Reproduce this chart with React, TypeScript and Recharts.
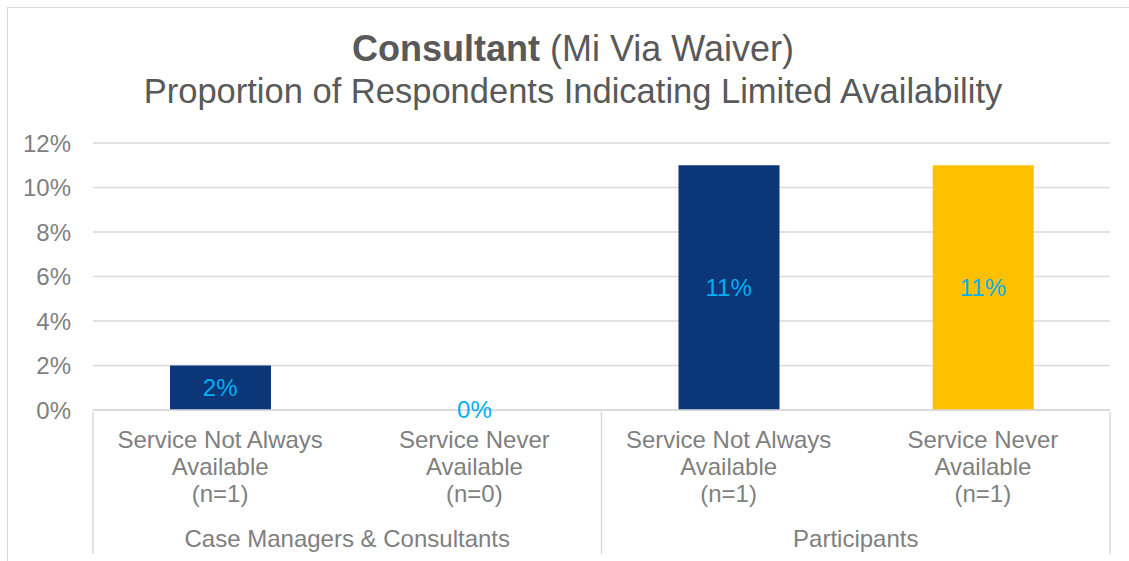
import { ComposedChart, Bar, Line, XAxis, YAxis, CartesianGrid, LabelList, Cell } from 'recharts';

const categories = ['Service Not Always Available', 'Service Never Available', 'Service Not Always Available', 'Service Never Available'];
const sampleSizes = [1, 0, 1, 1];
const groups = ['Case Managers & Consultants', 'Case Managers & Consultants', 'Participants', 'Participants'];
const values = [0.02, 0, 0.11, 0.11];
const yTicks = [0, 0.02, 0.04, 0.06, 0.08, 0.1, 0.12];

const barColors = ['#0B3677', '#0B3677', '#0B3677', '#FFC000'];

const W = 1129;
const H = 561;
const Y_AXIS_W = 93;
const RIGHT = 19;
const PLOT_W = W - Y_AXIS_W - RIGHT;
const BAND = PLOT_W / categories.length;
const FONT = '"Liberation Sans", Arial, sans-serif';

const data = categories.map((c, i) => ({
  name: `${i}`,
  label: c,
  n: sampleSizes[i],
  group: groups[i],
  value: values[i],
  // middle of the bar, used only to place the data label (also works for the 0% bar)
  mid: values[i] / 2,
}));

const pct = (v: number) => `${Math.round(v * 100)}%`;

// splits "Service Not Always Available" into the two lines the reference shows
function splitLabel(s: string) {
  const idx = s.lastIndexOf(' ');
  return [s.slice(0, idx), s.slice(idx + 1)];
}

function CategoryTick(props: any) {
  const { x, y, payload } = props;
  const i = Number(payload.value);
  const d = data[i];
  const [l1, l2] = splitLabel(d.label);
  const font = { fontFamily: FONT, fontSize: 24, fill: '#7F7F7F' };
  const isGroupStart = i === 0 || groups[i] !== groups[i - 1];
  const isLast = i === data.length - 1;
  return (
    <g>
      <text x={x} y={y + 36} textAnchor="middle" {...font}>{l1}</text>
      <text x={x} y={y + 63} textAnchor="middle" {...font}>{l2}</text>
      <text x={x} y={y + 90} textAnchor="middle" {...font}>{`(n=${d.n})`}</text>
      {isGroupStart && (
        <>
          <line x1={x - BAND / 2} x2={x - BAND / 2} y1={y} y2={y + 142} stroke="#D9D9D9" strokeWidth={1.5} />
          <text x={x + BAND / 2} y={y + 135} textAnchor="middle" {...font}>{d.group}</text>
        </>
      )}
      {isLast && (
        <line x1={x + BAND / 2} x2={x + BAND / 2} y1={y} y2={y + 142} stroke="#D9D9D9" strokeWidth={1.5} />
      )}
    </g>
  );
}

function ValueLabel(props: any) {
  const { x, y, value } = props;
  return (
    <text x={x} y={Number(y) + 8} textAnchor="middle" fill="#00B0F0" fontSize={24} fontFamily={FONT}>
      {pct(Number(value))}
    </text>
  );
}

export default function App() {
  return (
    <div style={{ position: 'absolute', left: 0, top: 0, width: W, height: H, overflow: 'hidden', background: '#fff' }}>
      <div style={{ position: 'absolute', left: 7, top: 7, width: W + 20, height: H + 20, border: '1px solid #D9D9D9' }} />
      <div
        style={{
          position: 'absolute',
          left: 0,
          top: 27,
          width: 1146,
          textAlign: 'center',
          fontFamily: FONT,
          lineHeight: '43px',
          color: '#595959',
        }}
      >
        <div style={{ fontSize: 36 }}>
          <b>Consultant</b> (Mi Via Waiver)
        </div>
        <div style={{ fontSize: 34.5 }}>Proportion of Respondents Indicating Limited Availability</div>
      </div>
      <ComposedChart
        width={W}
        height={H}
        data={data}
        margin={{ top: 143, right: RIGHT, bottom: 0, left: 0 }}
        style={{ position: 'absolute', left: 0, top: 0 }}
      >
        <CartesianGrid vertical={false} stroke="#D9D9D9" strokeWidth={1.5} />
        <XAxis
          dataKey="name"
          height={151}
          tick={<CategoryTick />}
          tickLine={false}
          tickSize={0}
          axisLine={{ stroke: '#D9D9D9', strokeWidth: 1.5 }}
          interval={0}
        />
        <YAxis
          width={Y_AXIS_W}
          domain={[0, 0.12]}
          ticks={yTicks}
          tickFormatter={pct}
          axisLine={false}
          tickLine={false}
          tickMargin={16}
          tick={{ fill: '#7F7F7F', fontSize: 24, fontFamily: FONT }}
        />
        <Bar dataKey="value" barSize={101} isAnimationActive={false}>
          {data.map((_, i) => (
            <Cell key={i} fill={barColors[i]} />
          ))}
        </Bar>
        <Line
          dataKey="mid"
          stroke="none"
          dot={false}
          activeDot={false}
          legendType="none"
          isAnimationActive={false}
        >
          <LabelList dataKey="value" content={<ValueLabel />} />
        </Line>
      </ComposedChart>
    </div>
  );
}
